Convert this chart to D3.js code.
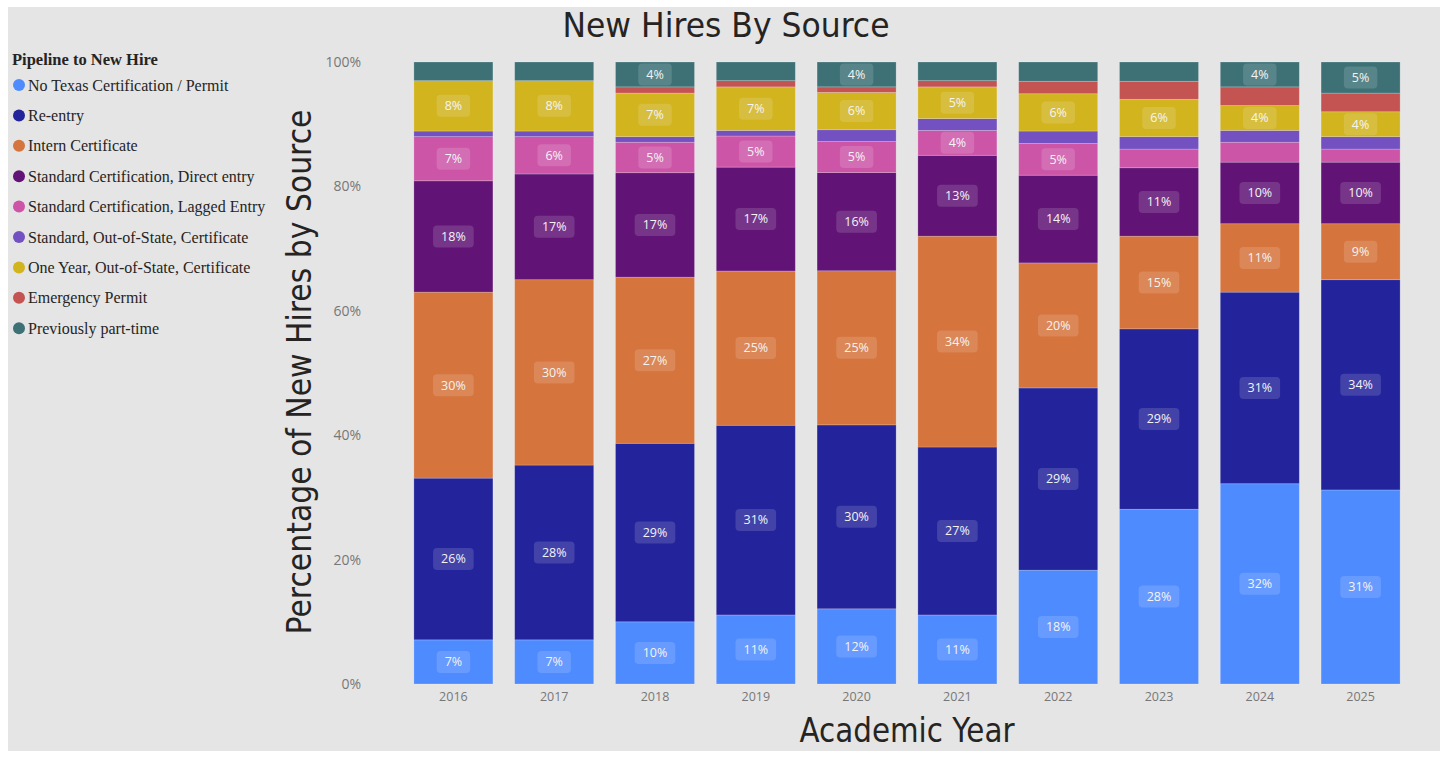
<!DOCTYPE html>
<html>
<head>
<meta charset="utf-8">
<script src="https://cdn.jsdelivr.net/npm/d3@7"></script>
<style>
  body { margin: 0; background: #ffffff; }
  svg { display: block; }
</style>
</head>
<body>
<div id="canvas"></div>
<script>
/* DATA */
const years = ["2016", "2017", "2018", "2019", "2020", "2021", "2022", "2023", "2024", "2025"];

const seriesNames = [
    "No Texas Certification / Permit",
    "Re-entry",
    "Intern Certificate",
    "Standard Certification, Direct entry",
    "Standard Certification, Lagged Entry",
    "Standard, Out-of-State, Certificate",
    "One Year, Out-of-State, Certificate",
    "Emergency Permit",
    "Previously part-time"
];

const seriesColors = ["#4e8bff", "#23239b", "#d5743c", "#611476", "#cc55a8", "#7351c0", "#d2b41f", "#c35452", "#3d7176"];

// percent of new hires, one array per pipeline, in year order
const noCert    = [7.1, 7.1, 10.0, 11.1, 12.1, 11.1, 18.3, 28.1, 32.2, 31.2];
const reentry   = [26.0, 28.1, 28.7, 30.5, 29.6, 27.0, 29.3, 29.0, 30.8, 33.8];
const intern    = [29.9, 29.8, 26.7, 24.8, 24.8, 33.9, 20.1, 14.9, 11.0, 9.0];
const direct    = [17.9, 17.0, 16.8, 16.7, 15.8, 13.0, 14.1, 11.0, 9.9, 9.9];
const lagged    = [7.1, 6.0, 4.9, 5.0, 5.0, 4.0, 5.1, 3.0, 3.2, 2.1];
const outState  = [0.9, 0.9, 0.9, 0.9, 1.9, 1.9, 2.0, 2.0, 1.9, 2.0];
const oneYear   = [8.1, 8.1, 7.0, 7.0, 6.0, 5.1, 6.0, 6.0, 4.0, 4.0];
const emergency = [0.0, 0.0, 1.0, 1.0, 0.9, 1.0, 2.0, 2.9, 3.0, 3.0];
const partTime  = [3.0, 3.0, 4.0, 3.0, 4.0, 3.0, 3.1, 3.1, 4.0, 5.0];

const seriesValues = [noCert, reentry, intern, direct, lagged, outState, oneYear, emergency, partTime];

const yTicks = [0, 0.2, 0.4, 0.6, 0.8, 1];

/* CANVAS */
const width = 1446;
const height = 758;

const svg = d3.select("#canvas")
    .append("svg")
    .attr("width", width)
    .attr("height", height);

svg.append("rect")
    .attr("x", 8).attr("y", 7)
    .attr("width", 1432).attr("height", 744)
    .attr("fill", "#e5e5e5");

/* BUILD TABLE + STACK */
const rows = years.map((y, i) => {
    const row = { year: y };
    seriesNames.forEach((s, j) => { row[s] = seriesValues[j][i]; });
    return row;
});

const stacked = d3.stack()
    .keys(seriesNames)
    .offset(d3.stackOffsetExpand)(rows);

const x = d3.scaleBand()
    .domain(years)
    .range([403, 1411])
    .paddingInner(0.216)
    .paddingOuter(0.108);

const y = d3.scaleLinear()
    .domain([0, 1])
    .range([684, 62]);

const color = d3.scaleOrdinal().domain(seriesNames).range(seriesColors);

/* BARS */
const layers = svg.append("g").selectAll("g")
    .data(stacked)
    .join("g")
    .attr("fill", d => color(d.key));

layers.selectAll("rect")
    .data(d => d)
    .join("rect")
    .attr("x", d => x(d.data.year))
    .attr("y", d => y(d[1]))
    .attr("width", x.bandwidth())
    .attr("height", d => Math.max(0, y(d[0]) - y(d[1])))
    .attr("stroke", "rgba(255,255,255,0.25)")
    .attr("stroke-width", 0.8);

/* DATA LABELS */
const labelData = [];
stacked.forEach(layer => {
    layer.forEach(d => {
        const v = d.data[layer.key];
        if (v >= 3.5) labelData.push({ year: d.data.year, mid: (d[0] + d[1]) / 2, text: Math.round(v) + "%" });
    });
});

const labels = svg.append("g").selectAll("g")
    .data(labelData)
    .join("g")
    .attr("transform", d => `translate(${x(d.year) + x.bandwidth() / 2},${y(d.mid)})`);

labels.append("rect")
    .attr("fill", "#ffffff")
    .attr("fill-opacity", 0.14)
    .attr("rx", 4);

labels.append("text")
    .attr("text-anchor", "middle")
    .attr("dy", "0.35em")
    .attr("font-family", "'Open Sans', sans-serif")
    .attr("font-size", 12.5)
    .attr("fill", "#f4f4f4")
    .text(d => d.text)
    .each(function() {
        const w = this.getComputedTextLength() + 16;
        d3.select(this.parentNode).select("rect")
            .attr("x", -w / 2).attr("y", -11)
            .attr("width", w).attr("height", 22);
    });

/* AXES */
const yAxis = svg.append("g")
    .attr("transform", "translate(361,0)")
    .call(d3.axisLeft(y).tickValues(yTicks).tickFormat(d3.format(".0%")).tickSize(0).tickPadding(0));
yAxis.select(".domain").remove();
yAxis.selectAll("text")
    .attr("font-family", "'Open Sans', sans-serif")
    .attr("font-size", 14)
    .attr("fill", "#777777");

const xAxis = svg.append("g")
    .attr("transform", "translate(0,684)")
    .call(d3.axisBottom(x).tickSize(0).tickPadding(8));
xAxis.select(".domain").remove();
xAxis.selectAll("text")
    .attr("font-family", "'Open Sans', sans-serif")
    .attr("font-size", 12.5)
    .attr("fill", "#777777");

/* TITLES */
svg.append("text")
    .attr("x", 726).attr("y", 37)
    .attr("text-anchor", "middle")
    .attr("font-family", "'DejaVu Sans', sans-serif")
    .attr("font-size", 33)
    .attr("fill", "#252423")
    .attr("textLength", 327)
    .attr("lengthAdjust", "spacingAndGlyphs")
    .text("New Hires By Source");

svg.append("text")
    .attr("x", 907).attr("y", 742)
    .attr("text-anchor", "middle")
    .attr("font-family", "'DejaVu Sans', sans-serif")
    .attr("font-size", 33)
    .attr("fill", "#252423")
    .attr("textLength", 215)
    .attr("lengthAdjust", "spacingAndGlyphs")
    .text("Academic Year");

svg.append("text")
    .attr("transform", "translate(311,372) rotate(-90)")
    .attr("text-anchor", "middle")
    .attr("font-family", "'DejaVu Sans', sans-serif")
    .attr("font-size", 33)
    .attr("fill", "#252423")
    .attr("textLength", 525)
    .attr("lengthAdjust", "spacingAndGlyphs")
    .text("Percentage of New Hires by Source");

/* LEGEND */
const legend = svg.append("g");

legend.append("text")
    .attr("x", 12).attr("y", 65)
    .attr("font-family", "'Liberation Serif', serif")
    .attr("font-weight", "bold")
    .attr("font-size", 16.5)
    .attr("fill", "#252423")
    .text("Pipeline to New Hire");

const items = legend.selectAll("g")
    .data(seriesNames)
    .join("g")
    .attr("transform", (d, i) => `translate(0,${85 + i * 30.4})`);

items.append("circle")
    .attr("cx", 19).attr("cy", 0).attr("r", 6)
    .attr("fill", d => color(d));

items.append("text")
    .attr("x", 28).attr("dy", "0.35em")
    .attr("font-family", "'Liberation Serif', serif")
    .attr("font-size", 16)
    .attr("fill", "#252423")
    .text(d => d);
</script>
</body>
</html>
